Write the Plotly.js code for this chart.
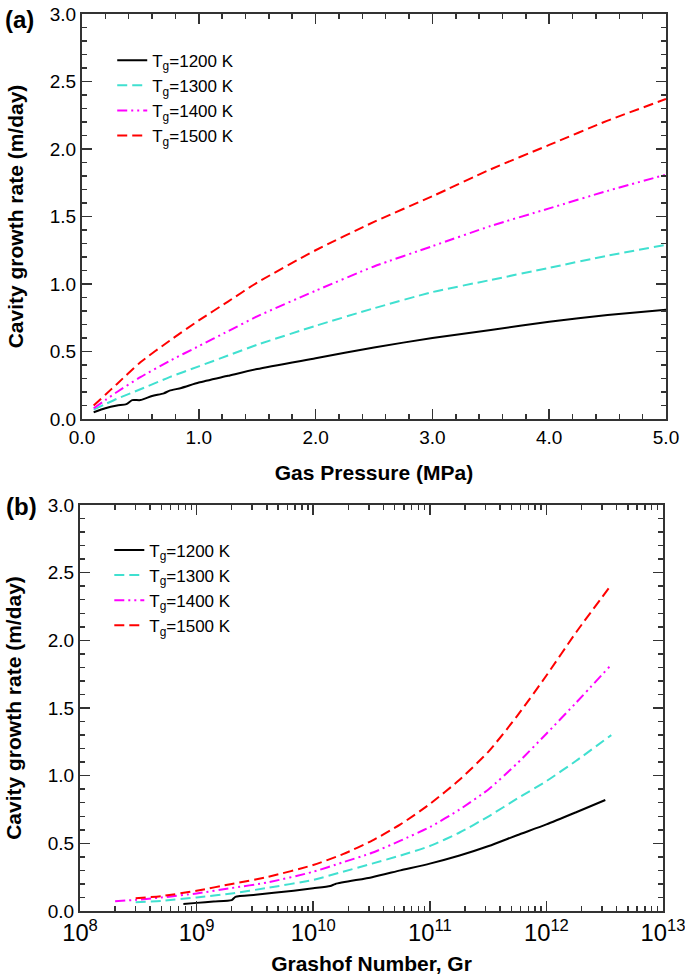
<!DOCTYPE html>
<html>
<head>
<meta charset="utf-8">
<script src="https://cdn.plot.ly/plotly-3.0.1.min.js"></script>
<style>html,body{margin:0;padding:0;background:#fff;}</style>
</head>
<body>
<div id="chart" style="width:685px;height:980px;"></div>
<script>
// ---------- Panel (a): growth rate vs gas pressure ----------
const seriesNames = ['T<sub>g</sub>=1200 K', 'T<sub>g</sub>=1300 K', 'T<sub>g</sub>=1400 K', 'T<sub>g</sub>=1500 K'];

const pressure1200 = [0.1, 0.2, 0.3, 0.38, 0.43, 0.5, 0.6, 0.7, 0.75, 0.85, 1.0, 1.25, 1.5, 2.0, 2.5, 3.0, 3.5, 4.0, 4.5, 5.0];
const rateP1200    = [0.05, 0.08, 0.10, 0.11, 0.14, 0.14, 0.17, 0.19, 0.21, 0.23, 0.27, 0.32, 0.37, 0.45, 0.53, 0.60, 0.66, 0.72, 0.77, 0.81];

const pressure = [0.1, 0.2, 0.3, 0.5, 0.75, 1.0, 1.25, 1.5, 2.0, 2.5, 3.0, 3.5, 4.0, 4.5, 5.0];
const rateP1300 = [0.07, 0.11, 0.15, 0.22, 0.31, 0.39, 0.47, 0.55, 0.69, 0.82, 0.94, 1.03, 1.12, 1.21, 1.29];
const rateP1400 = [0.08, 0.14, 0.20, 0.31, 0.43, 0.54, 0.65, 0.76, 0.95, 1.13, 1.28, 1.43, 1.56, 1.69, 1.81];
const rateP1500 = [0.10, 0.18, 0.26, 0.42, 0.58, 0.73, 0.87, 1.01, 1.25, 1.46, 1.65, 1.85, 2.03, 2.21, 2.37];

// ---------- Panel (b): growth rate vs Grashof number ----------
const gr1200   = [7.7e8, 1e9, 1.4e9, 2.0e9, 2.15e9, 3.2e9, 4.6e9, 6.8e9, 1e10, 1.4e10, 1.55e10, 3.2e10, 5.6e10, 1e11, 1.8e11, 3.2e11, 5.6e11, 1e12, 1.8e12, 3.2e12];
const rateG1200 = [0.052, 0.06, 0.07, 0.08, 0.105, 0.12, 0.135, 0.15, 0.168, 0.185, 0.20, 0.25, 0.30, 0.35, 0.41, 0.48, 0.56, 0.64, 0.73, 0.82];

const grShared = [3e8, 5e8, 1e9, 2e9, 4e9, 1e10, 1.8e10, 3.2e10, 5.6e10, 1e11, 1.8e11, 3.2e11, 5.6e11, 1e12, 1.8e12, 3.6e12];
const rateG1300 = [0.064, 0.075, 0.10, 0.13, 0.17, 0.23, 0.29, 0.35, 0.41, 0.48, 0.58, 0.70, 0.83, 0.96, 1.11, 1.30];
const rateG1500 = [0.095, 0.11, 0.15, 0.20, 0.25, 0.34, 0.42, 0.52, 0.64, 0.79, 0.97, 1.18, 1.44, 1.74, 2.06, 2.41];

const gr1400    = [2e8, 3e8, 5e8, 1e9, 2e9, 4e9, 1e10, 1.8e10, 3.2e10, 5.6e10, 1e11, 1.8e11, 3.2e11, 5.6e11, 1e12, 1.8e12, 3.6e12];
const rateG1400 = [0.072, 0.082, 0.10, 0.13, 0.17, 0.21, 0.29, 0.36, 0.43, 0.52, 0.62, 0.75, 0.90, 1.09, 1.31, 1.54, 1.82];

const yTickVals = [0, 0.5, 1.0, 1.5, 2.0, 2.5, 3.0];

// ---------- styles ----------
const styles = [
  {color: '#000000', dash: 'solid', width: 2},
  {color: '#40E0D0', dash: '10px,5px', width: 2},
  {color: '#FF00FF', dash: '10px,4px,2px,4px,2px,4px', width: 2},
  {color: '#FF0000', dash: '10px,5px', width: 2}
];

const topX = [pressure1200, pressure, pressure, pressure];
const topY = [rateP1200, rateP1300, rateP1400, rateP1500];
const botX = [gr1200, grShared, gr1400, grShared];
const botY = [rateG1200, rateG1300, rateG1400, rateG1500];

const traces = [];
for (let i = 0; i < 4; i++) {
  traces.push({x: topX[i], y: topY[i], xaxis: 'x', yaxis: 'y', mode: 'lines',
    name: seriesNames[i], line: Object.assign({shape: 'spline', smoothing: 0.6}, styles[i]), legend: 'legend'});
}
for (let i = 0; i < 4; i++) {
  traces.push({x: botX[i], y: botY[i], xaxis: 'x2', yaxis: 'y2', mode: 'lines',
    name: seriesNames[i], line: Object.assign({shape: 'spline', smoothing: 0.6}, styles[i]), legend: 'legend2'});
}

const AX = '#333333';
const FAM = 'Liberation Sans, Arial, sans-serif';
const tickFont = {family: FAM, size: 19, color: '#000'};
const titleFont = {family: FAM, size: 21, color: '#000', weight: 'bold'};
const legFont = {family: FAM, size: 17, color: '#000'};

function yAxis(domain, anchor) {
  return {
    domain: domain, anchor: anchor, range: [0, 3], tickvals: yTickVals, tickformat: '.1f',
    ticks: 'inside', ticklen: 10, tickwidth: 1.5, tickcolor: AX,
    minor: {dtick: 0.1, ticks: 'inside', ticklen: 5, tickwidth: 1.5, tickcolor: AX, showgrid: false},
    showline: true, linecolor: AX, linewidth: 2, mirror: 'allticks',
    showgrid: false, zeroline: false, tickfont: tickFont,
    title: {text: 'Cavity growth rate (m/day)', font: titleFont, standoff: 20}
  };
}

const layout = {
  width: 685, height: 980,
  margin: {l: 80, r: 19, t: 14, b: 69},
  paper_bgcolor: '#ffffff', plot_bgcolor: '#ffffff',
  font: {family: FAM, size: 17, color: '#000'},
  showlegend: true,
  xaxis: {
    domain: [0.0034, 1], anchor: 'y', range: [0, 5], tick0: 0, dtick: 1, tickformat: '.1f',
    ticks: 'inside', ticklen: 10, tickwidth: 1.5, tickcolor: AX,
    minor: {dtick: 0.2, ticks: 'inside', ticklen: 5, tickwidth: 1.5, tickcolor: AX, showgrid: false},
    showline: true, linecolor: AX, linewidth: 2, mirror: 'allticks', ticklabeloverflow: 'allow',
    showgrid: false, zeroline: false, tickfont: tickFont,
    title: {text: 'Gas Pressure (MPa)', font: titleFont, standoff: 19}
  },
  yaxis: yAxis([0.5485, 1], 'x'),
  xaxis2: {
    domain: [0, 0.9949], anchor: 'y2', type: 'log', range: [8, 13], dtick: 1,
    exponentformat: 'power', showexponent: 'all', ticklabeloverflow: 'allow',
    ticks: 'inside', ticklen: 10, tickwidth: 1.5, tickcolor: AX,
    minor: {dtick: 'D1', ticks: 'inside', ticklen: 5, tickwidth: 1.5, tickcolor: AX, showgrid: false},
    showline: true, linecolor: AX, linewidth: 2, mirror: 'allticks',
    showgrid: false, zeroline: false, tickfont: tickFont,
    title: {text: 'Grashof Number, Gr', font: titleFont, standoff: 12}
  },
  yaxis2: yAxis([0, 0.4526], 'x2'),
  legend: {x: 0.055, y: 0.968, xanchor: 'left', yanchor: 'top', bgcolor: 'rgba(0,0,0,0)', font: legFont},
  legend2: {x: 0.05, y: 0.422, xanchor: 'left', yanchor: 'top', bgcolor: 'rgba(0,0,0,0)', font: legFont},
  annotations: [
    {text: '(a)', xref: 'paper', yref: 'paper', x: -0.1024, y: 0.9944, xanchor: 'center', yanchor: 'middle',
     showarrow: false, font: {family: FAM, size: 24, weight: 'bold', color: '#000'}},
    {text: '(b)', xref: 'paper', yref: 'paper', x: -0.099, y: 0.4504, xanchor: 'center', yanchor: 'middle',
     showarrow: false, font: {family: FAM, size: 24, weight: 'bold', color: '#000'}}
  ]
};

Plotly.newPlot('chart', traces, layout, {staticPlot: true, displayModeBar: false});
</script>
</body>
</html>
